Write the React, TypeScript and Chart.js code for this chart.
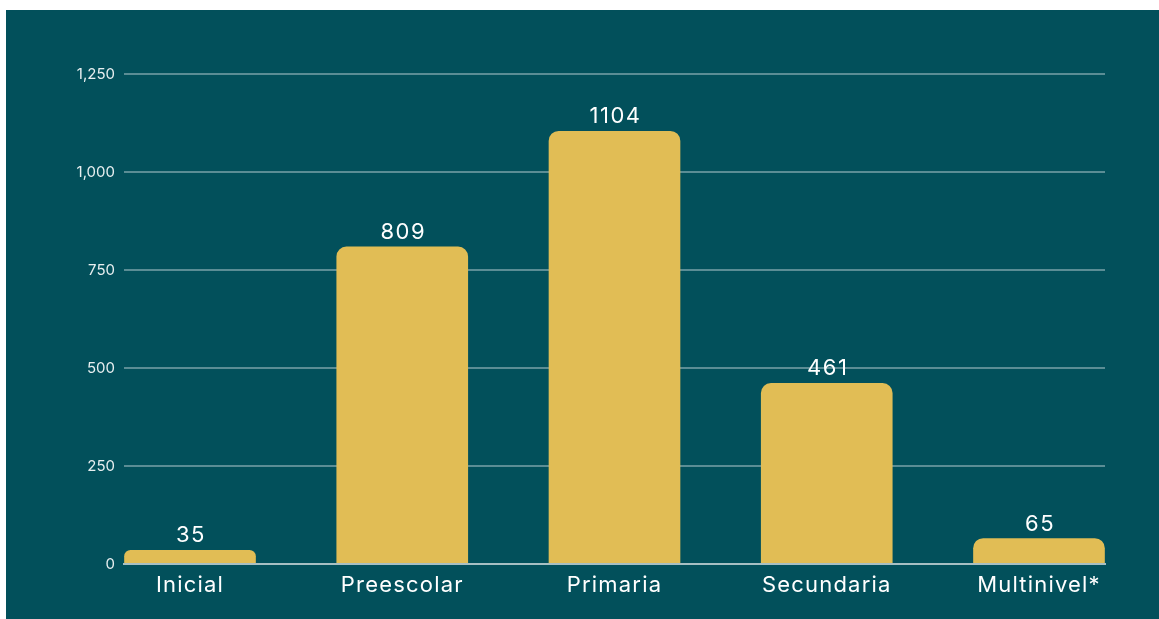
import React, { useEffect, useRef } from "react";
import { Chart, registerables } from "chart.js";

Chart.register(...registerables);

const categories = ["Inicial", "Preescolar", "Primaria", "Secundaria", "Multinivel*"];
const values = [35, 809, 1104, 461, 65];
const yTicks = [0, 250, 500, 750, 1000, 1250];

const BG = "#02505b";
const BAR = "#e1bd55";

const valueLabels = {
  id: "valueLabels",
  afterDatasetsDraw(chart: any) {
    const ctx = chart.ctx;
    const meta = chart.getDatasetMeta(0);
    ctx.save();
    ctx.fillStyle = "#ffffff";
    ctx.font = "22px Inter";
    (ctx as any).letterSpacing = "1.5px";
    ctx.textAlign = "center";
    ctx.textBaseline = "alphabetic";
    meta.data.forEach((el: any, i: number) => {
      ctx.fillText(String(values[i]), el.x + 1, el.y - 8);
    });
    ctx.restore();
    // letter spacing for the x-axis labels, which are drawn after the datasets
    (ctx as any).letterSpacing = "1.2px";
  },
  afterDraw(chart: any) {
    (chart.ctx as any).letterSpacing = "0px";
  },
};

export default function App() {
  const ref = useRef<HTMLCanvasElement | null>(null);
  useEffect(() => {
    if (!ref.current) return;
    const chart = new Chart(ref.current, {
      type: "bar",
      data: {
        datasets: [
          {
            data: values.map((v, i) => ({ x: i, y: v })),
            backgroundColor: BAR,
            borderRadius: 10,
            borderSkipped: "start",
            barThickness: 131,
          },
        ],
      },
      options: {
        animation: false,
        responsive: false,
        maintainAspectRatio: false,
        layout: { padding: { top: 64, right: 54, bottom: 15, left: 0 } },
        plugins: { legend: { display: false }, tooltip: { enabled: false } },
        scales: {
          x: {
            type: "linear",
            offset: false,
            min: -0.311,
            max: 4.311,
            grid: { display: false, drawTicks: false },
            border: { display: true, color: "#a7bfc3", width: 2, z: 1 },
            ticks: {
              z: 1,
              stepSize: 1,
              includeBounds: false,
              autoSkip: false,
              maxRotation: 0,
              color: "#ffffff",
              padding: 8,
              font: { family: "Inter", size: 22 },
              callback: (v: any) => (Number.isInteger(v) && categories[v] !== undefined ? categories[v] : ""),
            },
            afterFit: (s: any) => {
              s.height = 40;
            },
          },
          y: {
            min: 0,
            max: 1250,
            grid: { color: "#5b8d95", lineWidth: 2, drawTicks: false },
            border: { display: false },
            afterBuildTicks: (s: any) => {
              s.ticks = yTicks.map((v) => ({ value: v }));
            },
            ticks: {
              color: "#e8eff0",
              padding: 9,
              font: { family: "Inter", size: 15 },
              callback: (v: any) => Number(v).toLocaleString("en-US"),
            },
            afterFit: (s: any) => {
              s.width = 118;
            },
          },
        },
      },
      plugins: [valueLabels],
    });
    return () => chart.destroy();
  }, []);
  return (
    <div
      style={{
        position: "absolute",
        left: 6,
        top: 10,
        width: 1153,
        height: 609,
        background: BG,
      }}
    >
      <canvas ref={ref} width={1153} height={609} style={{ display: "block" }} />
    </div>
  );
}
